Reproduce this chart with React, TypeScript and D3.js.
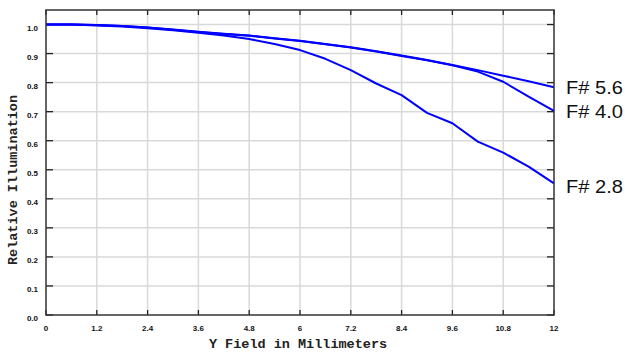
import { useEffect, useRef } from "react";
import * as d3 from "d3";

// field positions in mm
const fieldMM = [0, 0.6, 1.2, 1.8, 2.4, 3.0, 3.6, 4.2, 4.8, 5.4, 6.0, 6.6, 7.2, 7.8, 8.4, 9.0, 9.6, 10.2, 10.8, 11.4, 12.0];

const f56 = [1.0, 1.0, 0.998, 0.995, 0.99, 0.983, 0.975, 0.968, 0.962, 0.953, 0.944, 0.933, 0.922, 0.908, 0.893, 0.878, 0.861, 0.843, 0.824, 0.805, 0.784];
const f40 = [1.0, 1.0, 0.998, 0.995, 0.99, 0.982, 0.974, 0.967, 0.961, 0.952, 0.943, 0.932, 0.921, 0.907, 0.892, 0.877, 0.86, 0.838, 0.803, 0.752, 0.703];
const f28 = [1.0, 1.0, 0.997, 0.993, 0.987, 0.98, 0.972, 0.962, 0.95, 0.933, 0.912, 0.882, 0.843, 0.797, 0.757, 0.696, 0.66, 0.597, 0.559, 0.511, 0.453];

const seriesNames = ["F# 5.6", "F# 4.0", "F# 2.8"];
const xTicks = [0, 1.2, 2.4, 3.6, 4.8, 6, 7.2, 8.4, 9.6, 10.8, 12];
const yTicks = [0, 0.1, 0.2, 0.3, 0.4, 0.5, 0.6, 0.7, 0.8, 0.9, 1.0];

export default function App() {
  const ref = useRef<SVGSVGElement>(null);

  useEffect(() => {
    if (!ref.current) return;
    const svg = d3.select(ref.current);
    svg.selectAll("*").remove();

    const left = 46, right = 554, top = 10, bottom = 315;
    const x = d3.scaleLinear().domain([0, 12]).range([left, right]);
    const y = d3.scaleLinear().domain([0, 1.05]).range([bottom, top]);

    svg.append("rect").attr("width", 625).attr("height", 355).attr("fill", "#fff");

    // grid
    const grid = svg.append("g").attr("stroke", "#d9d9d9").attr("stroke-width", 1.5);
    grid.selectAll(".gx").data(xTicks.slice(1, -1)).enter().append("line")
      .attr("x1", (d) => x(d)).attr("x2", (d) => x(d)).attr("y1", top).attr("y2", bottom);
    grid.selectAll(".gy").data(yTicks.slice(1)).enter().append("line")
      .attr("x1", left).attr("x2", right).attr("y1", (d) => y(d)).attr("y2", (d) => y(d));

    // inward ticks on all four sides
    const ticks = svg.append("g").attr("stroke", "#222").attr("stroke-width", 1.3);
    ticks.selectAll(".tb").data(xTicks).enter().append("line")
      .attr("x1", (d) => x(d)).attr("x2", (d) => x(d)).attr("y1", bottom).attr("y2", bottom - 5);
    ticks.selectAll(".tt").data(xTicks).enter().append("line")
      .attr("x1", (d) => x(d)).attr("x2", (d) => x(d)).attr("y1", top).attr("y2", top + 5);
    ticks.selectAll(".tl").data(yTicks).enter().append("line")
      .attr("x1", left).attr("x2", left + 7).attr("y1", (d) => y(d)).attr("y2", (d) => y(d));
    ticks.selectAll(".tr").data(yTicks).enter().append("line")
      .attr("x1", right).attr("x2", right - 7).attr("y1", (d) => y(d)).attr("y2", (d) => y(d));

    // lines
    const line = d3.line<number>().x((_, i) => x(fieldMM[i])).y((d) => y(d));
    [f56, f40, f28].forEach((s) => {
      svg.append("path").datum(s).attr("d", line).attr("fill", "none")
        .attr("stroke", "#0000ff").attr("stroke-width", 2).attr("stroke-linejoin", "round");
    });

    // frame
    svg.append("rect").attr("x", left).attr("y", top).attr("width", right - left).attr("height", bottom - top)
      .attr("fill", "none").attr("stroke", "#333").attr("stroke-width", 1.5);

    // tick labels
    const tl = svg.append("g").attr("font-family", "Liberation Sans, Arial, sans-serif")
      .attr("font-size", 8).attr("font-weight", "bold").attr("fill", "#111");
    tl.selectAll(".xl").data(xTicks).enter().append("text")
      .attr("x", (d) => x(d)).attr("y", bottom + 16).attr("text-anchor", "middle")
      .text((d) => String(d));
    tl.selectAll(".yl").data(yTicks).enter().append("text")
      .attr("x", left - 8).attr("y", (d) => y(d) + 6).attr("text-anchor", "end")
      .text((d) => d.toFixed(1));

    // axis titles
    svg.append("text").attr("x", 298).attr("y", 348).attr("text-anchor", "middle")
      .attr("font-family", "Liberation Mono, Courier New, monospace").attr("font-size", 13.5)
      .attr("font-weight", "bold").attr("fill", "#222").text("Y Field in Millimeters");
    svg.append("text").attr("transform", "translate(17,180) rotate(-90)").attr("text-anchor", "middle")
      .attr("font-family", "Liberation Mono, Courier New, monospace").attr("font-size", 13.5)
      .attr("font-weight", "bold").attr("fill", "#222").text("Relative Illumination");

    // series labels
    const labelY = [94, 118, 193];
    svg.selectAll(".sl").data(seriesNames).enter().append("text")
      .attr("x", 566).attr("y", (_, i) => labelY[i])
      .attr("font-family", "Liberation Sans, Arial, sans-serif").attr("font-size", 19)
      .attr("textLength", 57).attr("lengthAdjust", "spacingAndGlyphs")
      .attr("fill", "#111").text((d) => d);
  }, []);

  return (
    <svg ref={ref} width={625} height={355}
      style={{ position: "absolute", left: 0, top: 0, display: "block" }} />
  );
}
